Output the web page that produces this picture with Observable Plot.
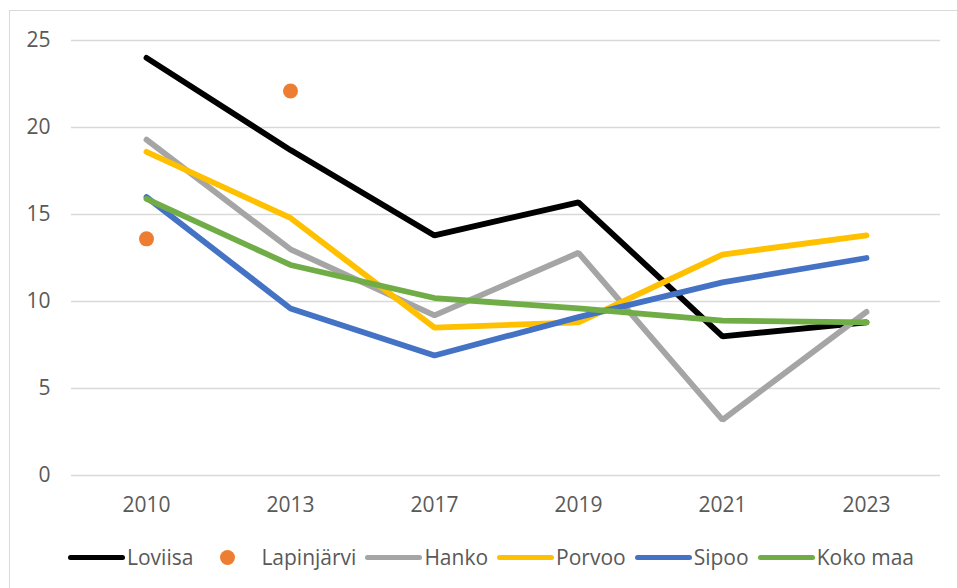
<!DOCTYPE html>
<html>
<head>
<meta charset="utf-8">
<script src="https://cdn.jsdelivr.net/npm/d3@7"></script>
<script src="https://cdn.jsdelivr.net/npm/@observablehq/plot@0.6"></script>
<style>
  html, body { margin: 0; padding: 0; background: #fff; }
  #wrap { position: relative; width: 957px; height: 588px; overflow: hidden; font-family: "Open Sans", sans-serif; }
  #frame { position: absolute; left: 9px; top: 10px; width: 1000px; height: 700px; border: 1px solid #d9d9d9; box-sizing: border-box; }
  #chart { position: absolute; left: 0; top: 0; }
  #legend { position: absolute; left: 68px; top: 541px; display: flex; align-items: center; font-size: 21px; color: #595959; line-height: 32px; }
  .item { display: flex; align-items: center; margin-right: 9px; }
  .sw { width: 57px; height: 32px; position: relative; margin-right: 2px; }
  .sw .ln { position: absolute; left: 0; right: 0; top: 13.5px; height: 5px; border-radius: 3px; }
  .sw .dt { position: absolute; left: 21px; top: 8.5px; width: 15px; height: 15px; border-radius: 50%; }
</style>
</head>
<body>
<div id="wrap">
  <div id="frame"></div>
  <div id="chart"></div>
  <div id="legend"></div>
</div>
<script>
const years = ["2010", "2013", "2017", "2019", "2021", "2023"];
const seriesNames = ["Loviisa", "Lapinjärvi", "Hanko", "Porvoo", "Sipoo", "Koko maa"];
const seriesColors = ["#000000", "#ED7D31", "#A5A5A5", "#FFC000", "#4472C4", "#70AD47"];
const loviisa = [24.0, 18.7, 13.8, 15.7, 8.0, 8.8];
const lapinjarvi = [13.6, 22.1, null, null, null, null];
const hanko = [19.3, 13.0, 9.2, 12.8, 3.2, 9.4];
const porvoo = [18.6, 14.8, 8.5, 8.8, 12.7, 13.8];
const sipoo = [16.0, 9.6, 6.9, 9.1, 11.1, 12.5];
const kokoMaa = [15.9, 12.1, 10.2, 9.6, 8.9, 8.8];
const yTicks = [0, 5, 10, 15, 20, 25];

const valuesBySeries = [loviisa, lapinjarvi, hanko, porvoo, sipoo, kokoMaa];
const rows = [];
seriesNames.forEach((name, i) => {
  years.forEach((yr, j) => {
    const v = valuesBySeries[i][j];
    if (v != null) rows.push({series: name, year: yr, value: v});
  });
});
const lineRows = rows.filter(d => d.series !== "Lapinjärvi");
const dotRows = rows.filter(d => d.series === "Lapinjärvi");

const chart = Plot.plot({
  width: 957,
  height: 520,
  marginLeft: 71,
  marginRight: 17,
  marginTop: 40,
  marginBottom: 45,
  style: {fontFamily: "'Open Sans', sans-serif", fontSize: "21px", color: "#595959", background: "transparent"},
  x: {type: "point", domain: years, padding: 0.5, label: null},
  y: {domain: [0, 25], label: null},
  color: {domain: seriesNames, range: seriesColors},
  marks: [
    Plot.ruleY(yTicks, {stroke: "#d9d9d9", strokeWidth: 1.5, strokeOpacity: 1}),
    Plot.axisY({ticks: yTicks, tickSize: 0, tickPadding: 21, label: null, fill: "#595959"}),
    Plot.axisX({tickSize: 0, tickPadding: 22, label: null, fill: "#595959"}),
    Plot.line(lineRows, {x: "year", y: "value", z: "series", stroke: "series", strokeWidth: 5.8, strokeLinecap: "round", strokeLinejoin: "miter"}),
    Plot.dot(dotRows, {x: "year", y: "value", r: 7.5, fill: "series", stroke: null})
  ]
});
document.getElementById("chart").appendChild(chart);

const legend = document.getElementById("legend");
seriesNames.forEach((name, i) => {
  const item = document.createElement("div");
  item.className = "item";
  const sw = document.createElement("div");
  sw.className = "sw";
  const mk = document.createElement("div");
  if (name === "Lapinjärvi") {
    mk.className = "dt";
    sw.style.marginRight = "2px";
    mk.style.left = "18px";
  } else {
    mk.className = "ln";
  }
  mk.style.background = seriesColors[i];
  sw.appendChild(mk);
  const tx = document.createElement("span");
  tx.textContent = name;
  item.appendChild(sw);
  item.appendChild(tx);
  legend.appendChild(item);
});
</script>
</body>
</html>
